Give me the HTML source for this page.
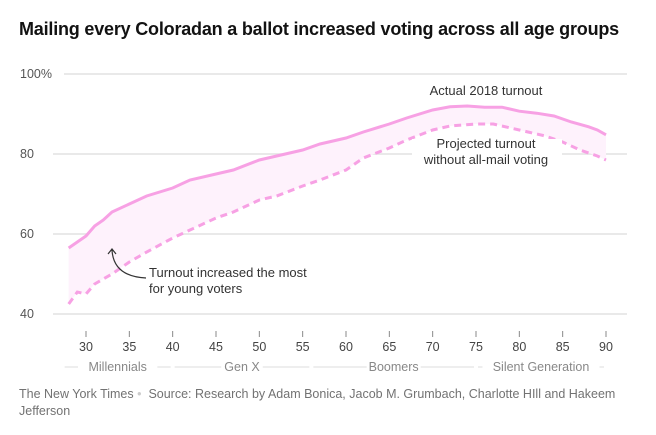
<!DOCTYPE html>
<html><head><meta charset="utf-8"><style>
body{margin:0;background:#fff;font-family:"Liberation Sans",sans-serif;}
#wrap{position:relative;width:656px;height:435px;overflow:hidden}
.t{position:absolute;white-space:nowrap}
</style></head><body>
<div id="wrap">
<div class="t" style="left:19px;top:19px;font-size:18px;font-weight:bold;color:#121212;letter-spacing:-0.2px">Mailing every Coloradan a ballot increased voting across all age groups</div>
<svg id="chart" width="656" height="435" style="position:absolute;left:0;top:0"></svg>
<div class="t" style="left:19px;top:386px;font-size:12.5px;color:#727272;line-height:17px;white-space:normal;width:620px">The New York Times <span style="color:#ccc">•</span>&nbsp; Source: Research by Adam Bonica, Jacob M. Grumbach, Charlotte HIll and Hakeem Jefferson</div>
</div>
<script>
const ages=[28,29,30,31,32,33,35,37,40,42,45,47,50,52,55,57,60,62,65,67,70,72,74,76,78,80,82,84,86,88,89,90];
const actual=[56.5,58,59.5,62,63.5,65.5,67.5,69.5,71.5,73.5,75,76,78.5,79.5,81,82.5,84,85.5,87.5,89,91,91.8,92,91.7,91.7,90.7,90.2,89.5,88,86.8,86,84.8];
const projAges=[28,29,30,31,33,35,37,40,42,45,47,50,52,55,57,60,62,65,67,70,72,75,77,79,81,83,85,87,89,90];
const projected=[42.5,45.5,45,47.5,50,53,55.5,59,61,64,65.5,68.5,69.5,72,73.5,76,79,81.5,83.5,86,87,87.5,87.5,86.5,85.5,84.5,83,81,79.5,78.5];
const yTicks=[100,80,60,40];
const xTicks=[30,35,40,45,50,55,60,65,70,75,80,85,90];
const gens=["Millennials","Gen X","Boomers","Silent Generation"];
const genBounds=[[28,40],[40,56],[56,75],[75,90]];
const NS="http://www.w3.org/2000/svg";
const svg=document.getElementById('chart');
const X=a=>86+(a-30)*520/60;
const Y=v=>74+(100-v)*4;
function mk(tag,attrs,parent){const e=document.createElementNS(NS,tag);for(const k in attrs)e.setAttribute(k,attrs[k]);(parent||svg).appendChild(e);return e;}
yTicks.forEach(v=>{
 const g=mk('line',{x1:v===100?64:53,x2:627,y1:Y(v),y2:Y(v),stroke:'#e2e2e2','stroke-width':1.5});
 
 
 const t=mk('text',{x:20,y:Y(v)+4,'font-size':12.5,fill:'#555','font-family':'Liberation Sans'});
 t.textContent=v===100?'100%':String(v);
 
 
});
let d='M'+ages.map((a,i)=>X(a)+','+Y(actual[i])).join('L');
for(let i=projAges.length-1;i>=0;i--)d+='L'+X(projAges[i])+','+Y(projected[i]);
const area=mk('path',{d:d+'Z',fill:'#fef2fc'});


const proj=mk('path',{d:'M'+projAges.map((a,i)=>X(a)+','+Y(projected[i])).join('L'),fill:'none',stroke:'#f7a1e4','stroke-width':3,'stroke-dasharray':'7,5'});


const act=mk('path',{d:'M'+ages.map((a,i)=>X(a)+','+Y(actual[i])).join('L'),fill:'none',stroke:'#f7a1e4','stroke-width':3});


xTicks.forEach(a=>{
 const l=mk('line',{x1:X(a),x2:X(a),y1:331,y2:337,stroke:'#888','stroke-width':1});
 
 
 const t=mk('text',{x:X(a),y:351,'font-size':12.5,fill:'#444','text-anchor':'middle','font-family':'Liberation Sans'});
 t.textContent=a;
 
 
});
gens.forEach((g,i)=>{
 const [a0,a1]=genBounds[i];const x0=X(a0)+(i?2:-4),x1=X(a1)-2,cx=(x0+x1)/2;
 const w=g.length*6.3+10;
 const l1=mk('line',{x1:x0,x2:cx-w/2,y1:367,y2:367,stroke:'#ddd'});
 
 
 const l2=mk('line',{x1:cx+w/2,x2:x1,y1:367,y2:367,stroke:'#ddd'});
 
 
 const t=mk('text',{x:cx,y:371,'font-size':12.5,fill:'#888','text-anchor':'middle','font-family':'Liberation Sans'});
 t.textContent=g;
 
 
});
function lab(txt,x,y,anchor,name){const t=mk('text',{x:x,y:y,'font-size':13,fill:'#333','text-anchor':anchor,'font-family':'Liberation Sans'});t.textContent=txt;return t;}
const bg=mk('rect',{x:412,y:139,width:150,height:34,fill:'#fff'});


lab('Actual 2018 turnout',486,95,'middle','actual-line-label');
lab('Projected turnout',486,148,'middle','projected-line-label');
lab('without all-mail voting',486,164,'middle','projected-line-label');
lab('Turnout increased the most',149,277,'start','annotation');
lab('for young voters',149,293,'start','annotation');
const arr=mk('path',{d:'M146,278 C125,277 113,268 112,250 M108,254 L112,249 L116,254',fill:'none',stroke:'#333','stroke-width':1.2});


</script>
</body></html>
